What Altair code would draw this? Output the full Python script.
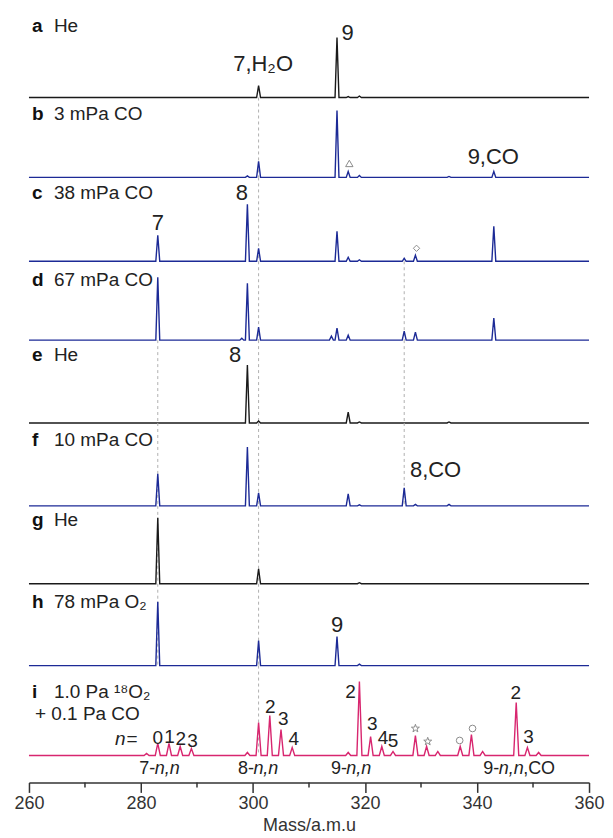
import altair as alt
import pandas as pd

# ---------------- data ----------------
X_DOMAIN = [260, 360]
MAJOR_TICKS = [260, 280, 300, 320, 340, 360]
MINOR_TICKS = [270, 290, 310, 330, 350]
AXIS_TITLE = "Mass/a.m.u"

LETTERS = ["a", "b", "c", "d", "e", "f", "g", "h", "i"]
CONDITIONS = ["He", "3 mPa CO", "38 mPa CO", "67 mPa CO", "He", "10 mPa CO",
              "He", "78 mPa O₂", "1.0 Pa ¹⁸O₂"]
CONDITION_I_LINE2 = "+ 0.1 Pa CO"
GAS_KIND = ["He", "CO", "CO", "CO", "He", "CO", "He", "O2", "mix"]

A_MASS = [301, 315, 317, 319]
A_INT = [12, 60, 1, 1.5]
B_MASS = [299, 301, 315, 317, 319, 335, 343]
B_INT = [1.5, 16, 67, 6, 2, 1, 6]
C_MASS = [283, 299, 301, 315, 317, 319, 327, 329, 343]
C_INT = [26, 57, 13, 30, 4, 1.5, 3, 6, 35]
D_MASS = [283, 298, 299, 301, 314, 315, 317, 327, 329, 343]
D_INT = [63, 2, 57, 13, 4, 12, 5, 9, 8, 22]
E_MASS = [299, 301, 317, 319, 335]
E_INT = [58, 2, 11, 1, 1]
F_MASS = [283, 299, 301, 317, 319, 327, 329, 335]
F_INT = [32, 59, 13, 12, 1, 18, 1.5, 1.5]
G_MASS = [283, 301, 319]
G_INT = [66, 15, 1]
H_MASS = [283, 301, 315, 319]
H_INT = [64, 25, 29, 1.5]
I_MASS = [281, 283, 285, 287, 289, 299, 301, 303, 305, 307, 317, 319, 321, 323,
          325, 329, 331, 333, 337, 339, 341, 347, 349, 351]
I_INT = [2, 12, 12, 9, 7, 3, 33, 40, 26, 8, 3, 74, 19, 9, 4, 20, 9, 4, 9, 21, 4,
         53, 8, 3]

SPECTRA_MASS = [A_MASS, B_MASS, C_MASS, D_MASS, E_MASS, F_MASS, G_MASS, H_MASS, I_MASS]
SPECTRA_INT = [A_INT, B_INT, C_INT, D_INT, E_INT, F_INT, G_INT, H_INT, I_INT]

# dashed guide lines (mass, first panel, last panel)
GUIDE_MASS = [301, 283, 327]
GUIDE_FIRST = ["b", "e", "d"]
GUIDE_LAST = ["i", "h", "f"]

# peak annotations
ANN_PANEL = ["a", "a", "b", "c", "c", "e", "f", "h"]
ANN_TEXT = ["9", "7,H₂O", "9,CO", "8", "7", "8", "8,CO", "9"]
ANN_MASS = [316.9, 301.8, 342.9, 298.0, 283.0, 296.8, 332.6, 315.0]
ANN_INT = [65, 34, 20, 68, 38, 68, 36, 41]

# open symbols
MARK_PANEL = ["b", "c", "i", "i", "i", "i"]
MARK_SHAPE = ["triangle", "diamond", "star", "star", "circle", "circle"]
MARK_MASS = [317.2, 329.2, 329.0, 331.2, 336.9, 339.2]
MARK_INT = [14, 13, 27, 14, 15, 27]

# panel i: n labels
N_TEXT = ["0", "1", "2", "3", "2", "3", "4", "2", "3", "4", "5", "2", "3"]
N_MASS = [283.0, 285.1, 287.1, 289.2, 303.1, 305.4, 307.3, 317.4, 321.3, 323.2,
          325.0, 346.9, 349.2]
N_INT = [17, 18, 16, 14, 49, 36, 16, 64, 31, 17, 14, 63, 18]

# panel i: cluster group labels  "<prefix><italic n,n><suffix>"
GROUP_PREFIX = ["7-", "8-", "9-", "9-"]
GROUP_SUFFIX = ["", "", "", ",CO"]
GROUP_MASS = [284.7, 302.3, 318.9, 346.1]
GROUP_INT = [-14, -14, -14, -14]
N_EQ_MASS = [277.25]
N_EQ_INT = [16]

# ---------------- layout / style ----------------
FONT = "Liberation Sans"
TEXT_COLOR = "#222222"
COLOR = {"He": "#1a1a1a", "CO": "#1c2a96", "O2": "#1c2a96", "mix": "#d8266f"}
PLOT_W = 561
PANEL_H = [82, 80, 84, 79, 83, 83, 78, 82, 117]
I_FLOOR = -27
LABEL_Y = [10, 16, 16, 19, 15, 17, 14, 18, 26]
STAR_PATH = ("M0,-1L0.235,-0.324L0.951,-0.309L0.38,0.124L0.588,0.809L0,0.4"
             "L-0.588,0.809L-0.38,0.124L-0.951,-0.309L-0.235,-0.324Z")
SHAPES = {"triangle": ("triangle-up", 55), "diamond": ("diamond", 40),
          "star": (STAR_PATH, 70), "circle": ("circle", 45)}

xscale = alt.Scale(domain=X_DOMAIN, nice=False, zero=False)

BOTTOM_AXIS = alt.Axis(
    values=MAJOR_TICKS, tickSize=10,
    title=AXIS_TITLE, grid=False, domainColor="#333333", domainWidth=1.5,
    tickColor="#333333", tickWidth=1.5, labelFont=FONT, labelFontSize=18,
    labelColor="#333333", labelPadding=2, labelFlush=False, labelOverlap=False,
    titleFont=FONT, titleFontSize=18, titleFontWeight="normal",
    titleColor="#333333", titlePadding=4,
)


def spectrum_df(masses, ints, hw):
    xs, ys = [X_DOMAIN[0]], [0.0]
    for m, h in zip(masses, ints):
        xs += [m - hw, m, m + hw]
        ys += [0.0, h, 0.0]
    xs.append(X_DOMAIN[1])
    ys.append(0.0)
    return pd.DataFrame({"mass": xs, "intensity": ys, "order": list(range(len(xs)))})


panels = []
for k, letter in enumerate(LETTERS):
    is_last = k == len(LETTERS) - 1
    lo = I_FLOOR if is_last else 0
    hi = PANEL_H[k] + lo
    color = COLOR[GAS_KIND[k]]
    x_axis = BOTTOM_AXIS if is_last else None
    layers = []

    def xenc():
        return alt.X("mass:Q", scale=xscale, axis=x_axis)

    def yenc(field="intensity"):
        return alt.Y(f"{field}:Q",
                     scale=alt.Scale(domain=[lo, hi], nice=False, zero=False), axis=None)

    def text_layer(df, **kw):
        base = dict(font=FONT, color=TEXT_COLOR, baseline="middle")
        base.update(kw)
        return alt.Chart(df).mark_text(**base).encode(x=xenc(), y=yenc(), text="t:N")

    # dashed guides
    gm = [m for m, f, l in zip(GUIDE_MASS, GUIDE_FIRST, GUIDE_LAST)
          if LETTERS.index(f) <= k <= LETTERS.index(l)]
    if gm:
        gdf = pd.DataFrame({"mass": gm, "top": [hi] * len(gm), "bottom": [0] * len(gm)})
        layers.append(
            alt.Chart(gdf).mark_rule(
                color="#b0b0b0", strokeDash=[3, 3], strokeWidth=1
            ).encode(x=xenc(), y=yenc("top"), y2="bottom:Q")
        )

    # spectrum
    hw = 0.45 if is_last else 0.35
    layers.append(
        alt.Chart(spectrum_df(SPECTRA_MASS[k], SPECTRA_INT[k], hw)).mark_line(
            color=color, strokeWidth=1.4, clip=False
        ).encode(x=xenc(), y=yenc(), order="order:Q")
    )

    # panel letter and condition
    layers.append(
        alt.Chart(pd.DataFrame({"t": [letter]})).mark_text(
            font=FONT, fontSize=19, fontWeight="bold", color="#111111",
            align="left", baseline="middle"
        ).encode(x=alt.value(3), y=alt.value(LABEL_Y[k]), text="t:N")
    )
    layers.append(
        alt.Chart(pd.DataFrame({"t": [CONDITIONS[k]]})).mark_text(
            font=FONT, fontSize=19, color=TEXT_COLOR, align="left", baseline="middle"
        ).encode(x=alt.value(25), y=alt.value(LABEL_Y[k]), text="t:N")
    )
    if is_last:
        layers.append(
            alt.Chart(pd.DataFrame({"t": [CONDITION_I_LINE2]})).mark_text(
                font=FONT, fontSize=19, color=TEXT_COLOR, align="left", baseline="middle"
            ).encode(x=alt.value(6), y=alt.value(LABEL_Y[k] + 23), text="t:N")
        )

    # annotations
    rows = [(m, v, t) for p, t, m, v in zip(ANN_PANEL, ANN_TEXT, ANN_MASS, ANN_INT) if p == letter]
    if rows:
        df = pd.DataFrame(rows, columns=["mass", "intensity", "t"])
        layers.append(text_layer(df, fontSize=22, align="center"))

    # symbols
    for shape_name, (shape, size) in SHAPES.items():
        rows = [(m, v) for p, s, m, v in zip(MARK_PANEL, MARK_SHAPE, MARK_MASS, MARK_INT)
                if p == letter and s == shape_name]
        if rows:
            df = pd.DataFrame(rows, columns=["mass", "intensity"])
            layers.append(
                alt.Chart(df).mark_point(
                    shape=shape, size=size, filled=False, color="#8c8c8c", strokeWidth=1,
                    opacity=1
                ).encode(x=xenc(), y=yenc())
            )

    if is_last:
        # minor axis ticks
        layers.append(
            alt.Chart(pd.DataFrame({"mass": MINOR_TICKS})).mark_rule(
                color="#333333", strokeWidth=1.5
            ).encode(x=xenc(), y=alt.value(PANEL_H[k]), y2=alt.value(PANEL_H[k] + 5))
        )
        df = pd.DataFrame({"mass": N_MASS, "intensity": N_INT, "t": N_TEXT})
        layers.append(text_layer(df, fontSize=19, align="center"))
        df = pd.DataFrame({"mass": N_EQ_MASS, "intensity": N_EQ_INT, "t": ["n"]})
        layers.append(text_layer(df, fontSize=19, align="right", fontStyle="italic"))
        df = pd.DataFrame({"mass": N_EQ_MASS, "intensity": N_EQ_INT, "t": ["="]})
        layers.append(text_layer(df, fontSize=19, align="left", dx=1))
        df = pd.DataFrame({"mass": GROUP_MASS, "intensity": GROUP_INT, "t": GROUP_PREFIX})
        layers.append(text_layer(df, fontSize=18, align="right", dx=-12))
        df = pd.DataFrame({"mass": GROUP_MASS, "intensity": GROUP_INT,
                           "t": ["n,n"] * len(GROUP_MASS)})
        layers.append(text_layer(df, fontSize=18, align="center", fontStyle="italic"))
        df = pd.DataFrame({"mass": GROUP_MASS, "intensity": GROUP_INT, "t": GROUP_SUFFIX})
        layers.append(text_layer(df, fontSize=18, align="left", dx=12))

    panels.append(alt.layer(*layers).properties(width=PLOT_W, height=PANEL_H[k]))

chart = alt.vconcat(*panels, spacing=0, bounds="flush").configure_view(
    stroke=None
).properties(padding={"left": 5, "top": 7, "right": 0, "bottom": 0})

chart.save("out.html", embed_options={"renderer": "svg", "actions": False})
